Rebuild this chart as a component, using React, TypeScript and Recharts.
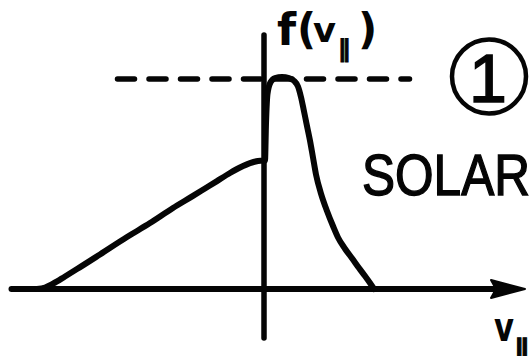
import React from 'react';
import { LineChart, Line, XAxis, YAxis, ReferenceLine } from 'recharts';

// v_par (arbitrary velocity units) and f(v_par)
const vPar = [
  -9.08, -8.76, -8.44, -7.96, -7.48, -6.56, -5.48, -4.56, -3.64, -2.84, -2.36, -1.88, -1.36, -0.96, -0.56, -0.24, -0.04,
  0.04, 0.08, 0.14, 0.26, 0.44, 0.72, 1.0, 1.2, 1.36, 1.48, 1.58, 1.7, 1.84, 1.96, 2.08, 2.28, 2.52, 2.76, 2.96,
  3.24, 3.52, 3.8, 4.04, 4.24, 4.4,
];
const fVal = [
  0, 0.007, 0.025, 0.059, 0.094, 0.163, 0.245, 0.311, 0.382, 0.439, 0.474, 0.509, 0.547, 0.573, 0.594, 0.604, 0.606,
  0.606, 0.78, 0.92, 0.975, 0.995, 1.0, 0.995, 0.982, 0.955, 0.905, 0.85, 0.78, 0.7, 0.62, 0.54, 0.45, 0.368,
  0.297, 0.243, 0.19, 0.145, 0.099, 0.061, 0.028, 0,
];

const curveData = vPar.map((v, i) => ({ v, f: fVal[i] }));

const vDomain = [-10.56, 10.68];
const fDomain = [-0.316, 1.363];

// axes and the dashed level line
const xAxisFrom = -10.1;
const xAxisTo = 10.44;
const yAxisFrom = -0.231;
const yAxisTo = 1.198;
const dashLevel = 0.99;
const dashFrom = -5.86;
const dashTo = 5.82;

const INK = '#050505';

const ArrowAxis = (props: any) => {
  const { x1, y1, x2, y2 } = props;
  return (
    <g>
      <line x1={x1} y1={y1} x2={x2 - 20} y2={y2} stroke={INK} strokeWidth={6} strokeLinecap="round" />
      <polygon points={`${x2},${y2} ${x2 - 34},${y2 - 9} ${x2 - 29},${y2} ${x2 - 34},${y2 + 9}`} fill={INK} stroke={INK} strokeWidth={2} strokeLinejoin="round" />
    </g>
  );
};

const Labels = () => (
  <svg width={531} height={356} style={{ position: 'absolute', left: 0, top: 0, pointerEvents: 'none' }}>
    <g fontFamily="DejaVu Sans" fontWeight="bold" fill={INK}>
      <text x={277} y={45} fontSize={44}>f</text>
      <text x={297} y={44} fontSize={42}>(</text>
      <text x={313} y={42} fontSize={34} textLength={23} lengthAdjust="spacingAndGlyphs">v</text>
      <text x={338} y={57} fontSize={24} stroke={INK} strokeWidth={0.9}>∥</text>
      <text x={358} y={44} fontSize={42}>)</text>
      <text x={494} y={341} fontSize={40} textLength={20} lengthAdjust="spacingAndGlyphs">v</text>
      <text x={514} y={361} fontSize={30} stroke={INK} strokeWidth={1}>∥</text>
    </g>
    <circle cx={489} cy={76.5} r={37} fill="none" stroke={INK} strokeWidth={4.5} />
    <text x={488} y={102} fontSize={68} fontFamily="Liberation Sans" fill={INK} stroke={INK} strokeWidth={1.6} textAnchor="middle">1</text>
    <text x={362} y={195} fontSize={58} fontFamily="Liberation Sans" fill={INK} stroke={INK} strokeWidth={1.4} textLength={168} lengthAdjust="spacingAndGlyphs">SOLAR</text>
  </svg>
);

export default function App() {
  return (
    <div style={{ position: 'absolute', left: 0, top: 0, width: 531, height: 356, background: '#fff' }}>
      <LineChart width={531} height={356} data={curveData} margin={{ top: 0, right: 0, bottom: 0, left: 0 }}>
        <XAxis dataKey="v" type="number" domain={vDomain} allowDataOverflow hide />
        <YAxis type="number" domain={fDomain} allowDataOverflow hide />
        <ReferenceLine
          segment={[{ x: dashFrom, y: dashLevel }, { x: dashTo, y: dashLevel }]}
          stroke={INK}
          strokeWidth={5.5}
          strokeDasharray="17 14.5"
          strokeLinecap="round"
          ifOverflow="visible"
        />
        <ReferenceLine
          segment={[{ x: 0, y: yAxisFrom }, { x: 0, y: yAxisTo }]}
          stroke={INK}
          strokeWidth={5.5}
          strokeLinecap="round"
          ifOverflow="visible"
        />
        <ReferenceLine
          segment={[{ x: xAxisFrom, y: 0 }, { x: xAxisTo, y: 0 }]}
          shape={ArrowAxis}
          ifOverflow="visible"
        />
        <Line
          type="monotone"
          dataKey="f"
          stroke={INK}
          strokeWidth={6}
          strokeLinecap="round"
          strokeLinejoin="round"
          dot={false}
          activeDot={false}
          isAnimationActive={false}
        />
      </LineChart>
      <Labels />
    </div>
  );
}
